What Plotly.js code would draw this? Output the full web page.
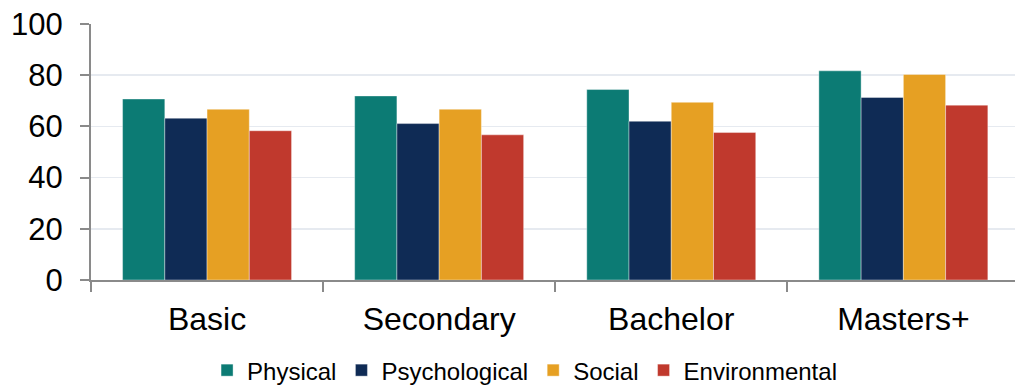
<!DOCTYPE html>
<html>
<head>
<meta charset="utf-8">
<script src="https://cdn.plot.ly/plotly-3.0.1.min.js"></script>
<style>
  html, body { margin: 0; padding: 0; background: #fff; }
  #chart { width: 1015px; height: 385px; }
</style>
</head>
<body>
<div id="chart"></div>
<script>
// Education levels on the x axis
const categories = ['Basic', 'Secondary', 'Bachelor', 'Masters+'];

// Mean domain scores per education level
const physical      = [70.7, 71.9, 74.4, 81.7];
const psychological = [63.2, 61.1, 62.0, 71.3];
const social        = [66.7, 66.7, 69.4, 80.3];
const environmental = [58.3, 56.7, 57.6, 68.3];

const seriesNames  = ['Physical', 'Psychological', 'Social', 'Environmental'];
const seriesValues = [physical, psychological, social, environmental];
const seriesColors = ['#0C7B74', '#0F2B55', '#E6A023', '#C0392D'];

const yTicks = [0, 20, 40, 60, 80, 100];

const FONT = 'Liberation Sans, Arial, sans-serif';

const traces = seriesNames.map((name, i) => ({
  type: 'bar',
  name: name,
  x: categories,
  y: seriesValues[i],
  marker: {
    color: seriesColors[i],
    line: { color: 'rgba(255,255,255,0.55)', width: 0.7 }
  },
  hoverinfo: 'x+y+name'
}));

const layout = {
  width: 1015,
  height: 385,
  margin: { l: 91, r: 0, t: 24, b: 105, pad: 0, autoexpand: false },
  paper_bgcolor: '#ffffff',
  plot_bgcolor: '#ffffff',
  barmode: 'group',
  bargap: 0.272,
  bargroupgap: 0,
  font: { family: FONT, color: '#000000' },
  xaxis: {
    type: 'category',
    range: [-0.5, 3.481],
    showline: true,
    linecolor: '#8a8a8a',
    linewidth: 2,
    ticks: 'outside',
    tickson: 'boundaries',
    ticklen: 10,
    tickwidth: 2,
    tickcolor: '#8a8a8a',
    showgrid: false,
    zeroline: false,
    automargin: false,
    tickfont: { family: FONT, size: 32, color: '#000000' },
    ticklabelstandoff: 10
  },
  yaxis: {
    range: [0, 100],
    tickvals: yTicks,
    ticktext: yTicks.map(String),
    showline: true,
    linecolor: '#8a8a8a',
    linewidth: 2,
    ticks: 'outside',
    ticklen: 9,
    tickwidth: 2,
    tickcolor: '#8a8a8a',
    showgrid: true,
    gridcolor: '#E6EAF0',
    gridwidth: 1.5,
    zeroline: false,
    automargin: false,
    tickfont: { family: FONT, size: 31, color: '#000000' },
    ticklabelstandoff: 11
  },
  showlegend: true,
  legend: {
    orientation: 'h',
    xref: 'container',
    yref: 'container',
    x: 0.204,
    xanchor: 'left',
    y: 0.096,
    yanchor: 'top',
    font: { family: FONT, size: 24, color: '#000000' },
    bgcolor: 'rgba(0,0,0,0)',
    traceorder: 'normal'
  }
};

Plotly.newPlot('chart', traces, layout, { displayModeBar: false, staticPlot: true });
</script>
</body>
</html>
